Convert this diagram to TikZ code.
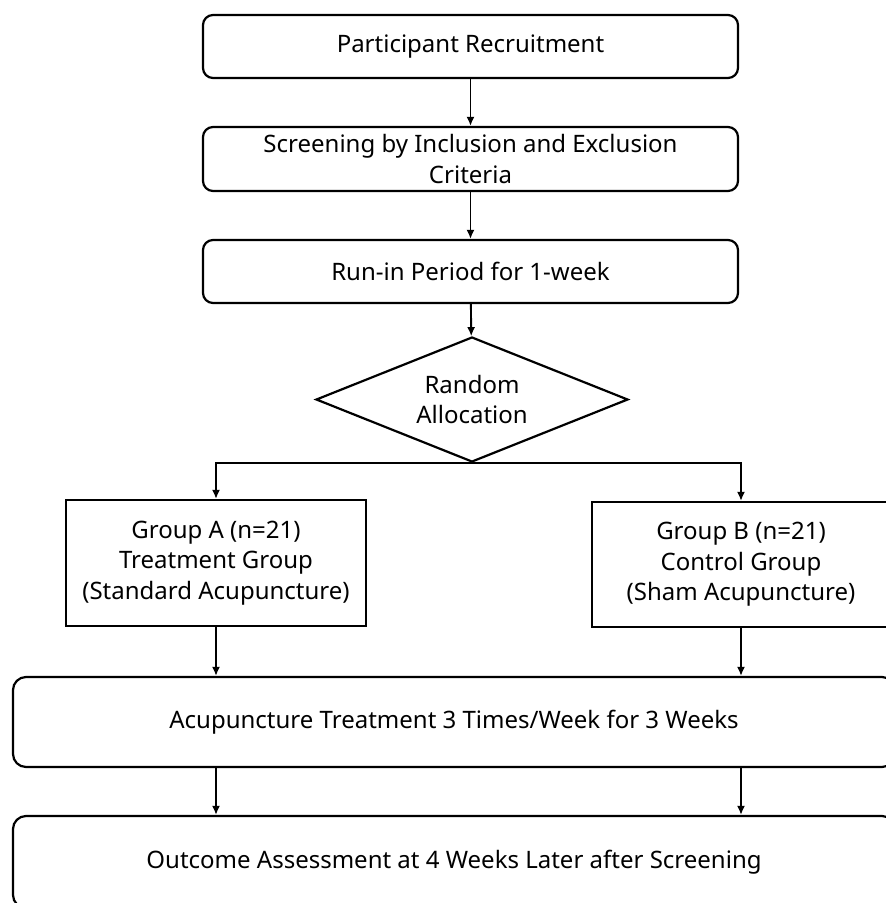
\documentclass[tikz,border=0pt]{standalone}
\usepackage{fontspec}
\setmainfont{Noto Sans}
\usetikzlibrary{shapes.geometric,arrows.meta}
\begin{document}
\begin{tikzpicture}[x=1pt,y=-1pt,
  line width=2.2pt,
  txt/.style={font=\fontsize{24}{30.5}\selectfont},
  rbox/.style={draw,rounded corners=10pt,inner sep=0pt,align=center,txt},
  gbox/.style={draw,inner sep=0pt,align=center,txt},
  wbox/.style={draw,rounded corners=13pt,inner sep=0pt,align=center,txt},
  arr/.style={-{Latex[length=9pt,width=8pt]},line width=1.9pt}]
\useasboundingbox (0,0) rectangle (886,903);
\clip (0,0) rectangle (886,903);
\node[rbox,minimum width=535pt,minimum height=63pt] (b1) at (470.5,46.5) {Participant Recruitment};
\node[rbox,minimum width=535pt,minimum height=64pt] (b2) at (470.5,159) {Screening by Inclusion and Exclusion\\Criteria};
\node[rbox,minimum width=535pt,minimum height=63pt] (b3) at (470.5,271.5) {Run-in Period for 1-week};
\node[draw,diamond,aspect=2.5,minimum width=312pt,minimum height=125pt,inner sep=0pt,align=center,txt] (dia) at (472,399.5) {Random\\Allocation};
\node[gbox,minimum width=300pt,minimum height=126pt] (ga) at (216,563) {Group A (n=21)\\Treatment Group\\(Standard Acupuncture)};
\node[gbox,minimum width=298pt,minimum height=125pt] (gb) at (741,564.5) {Group B (n=21)\\Control Group\\(Sham Acupuncture)};
\node[wbox,minimum width=882pt,minimum height=90pt] (b4) at (454,722) {Acupuncture Treatment 3 Times/Week for 3 Weeks};
\node[wbox,minimum width=882pt,minimum height=92pt] (b5) at (454,862) {Outcome Assessment at 4 Weeks Later after Screening};
\draw[arr] (b1) -- (b2);
\draw[arr] (b2) -- (b3);
\draw[arr] (b3) -- (dia);
\draw[arr] (dia.south) -| (ga.north);
\draw[arr] (dia.south) -| (gb.north);
\draw[arr] (ga.south) -- (ga.south |- b4.north);
\draw[arr] (gb.south) -- (gb.south |- b4.north);
\draw[arr] (ga.south |- b4.south) -- (ga.south |- b5.north);
\draw[arr] (gb.south |- b4.south) -- (gb.south |- b5.north);
\end{tikzpicture}
\end{document}
